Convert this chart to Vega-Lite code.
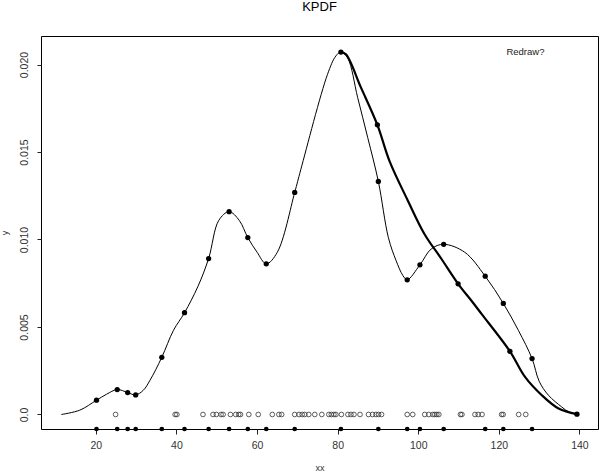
{
  "$schema": "https://vega.github.io/schema/vega-lite/v6.json",
  "autosize": {"type": "none"},
  "width": 557,
  "height": 393,
  "padding": {"left": 41, "top": 36, "right": 2, "bottom": 43},
  "background": "white",
  "config": {
    "view": {"stroke": "black", "strokeWidth": 1},
    "font": "Liberation Sans",
    "axis": {"domain": false, "grid": false, "tickColor": "#222", "labelColor": "#333", "titleColor": "#333", "titleFontWeight": "normal", "labelFont": "Liberation Sans", "titleFont": "Liberation Sans"}
  },
  "title": {"text": "KPDF", "fontSize": 13, "fontWeight": "normal", "color": "black", "offset": 22, "font": "Liberation Sans"},
  "datasets": {
    "curve": [
      {"s": "thin", "x": 11.45, "y": 0.0},
      {"s": "thin", "x": 16.01, "y": 0.000245},
      {"s": "thin", "x": 20.17, "y": 0.000815},
      {"s": "thin", "x": 22.67, "y": 0.001157},
      {"s": "thin", "x": 25.31, "y": 0.001425},
      {"s": "thin", "x": 27.9, "y": 0.001254},
      {"s": "thin", "x": 29.89, "y": 0.001117},
      {"s": "thin", "x": 31.79, "y": 0.001385},
      {"s": "thin", "x": 33.46, "y": 0.00196},
      {"s": "thin", "x": 36.37, "y": 0.003267},
      {"s": "thin", "x": 39.27, "y": 0.00481},
      {"s": "thin", "x": 42.01, "y": 0.005815},
      {"s": "thin", "x": 45.3, "y": 0.0073},
      {"s": "thin", "x": 47.99, "y": 0.008911},
      {"s": "thin", "x": 50.5, "y": 0.01109},
      {"s": "thin", "x": 53.07, "y": 0.011591},
      {"s": "thin", "x": 55.6, "y": 0.01109},
      {"s": "thin", "x": 57.71, "y": 0.010108},
      {"s": "thin", "x": 60.03, "y": 0.009269},
      {"s": "thin", "x": 62.29, "y": 0.008609},
      {"s": "thin", "x": 65.03, "y": 0.009269},
      {"s": "thin", "x": 69.35, "y": 0.012691},
      {"s": "thin", "x": 70.84, "y": 0.01398},
      {"s": "thin", "x": 77.49, "y": 0.01944},
      {"s": "thin", "x": 79.56, "y": 0.02049},
      {"s": "thin", "x": 80.81, "y": 0.020713},
      {"s": "thin", "x": 82.49, "y": 0.02037},
      {"s": "thin", "x": 84.97, "y": 0.01811},
      {"s": "thin", "x": 87.46, "y": 0.01583},
      {"s": "thin", "x": 90.1, "y": 0.013318},
      {"s": "thin", "x": 92.6, "y": 0.01010},
      {"s": "thin", "x": 94.5, "y": 0.008797},
      {"s": "thin", "x": 96.19, "y": 0.007942},
      {"s": "thin", "x": 97.26, "y": 0.007697},
      {"s": "thin", "x": 100.42, "y": 0.008552},
      {"s": "thin", "x": 103.24, "y": 0.009464},
      {"s": "thin", "x": 106.31, "y": 0.009726},
      {"s": "thin", "x": 111.54, "y": 0.00927},
      {"s": "thin", "x": 116.62, "y": 0.007902},
      {"s": "thin", "x": 121.11, "y": 0.006346},
      {"s": "thin", "x": 124.85, "y": 0.004806},
      {"s": "thin", "x": 128.24, "y": 0.003193},
      {"s": "thin", "x": 130.0, "y": 0.0019},
      {"s": "thin", "x": 132.3, "y": 0.0011},
      {"s": "thin", "x": 135.6, "y": 0.00043},
      {"s": "thin", "x": 137.3, "y": 0.00015},
      {"s": "thin", "x": 139.38, "y": 0.0000171},
      {"s": "thick", "x": 80.81, "y": 0.020713},
      {"s": "thick", "x": 82.06, "y": 0.020582},
      {"s": "thick", "x": 85.8, "y": 0.018677},
      {"s": "thick", "x": 89.86, "y": 0.016551},
      {"s": "thick", "x": 92.85, "y": 0.014498},
      {"s": "thick", "x": 97.43, "y": 0.012218},
      {"s": "thick", "x": 101.57, "y": 0.01030},
      {"s": "thick", "x": 105.73, "y": 0.008900},
      {"s": "thick", "x": 109.89, "y": 0.007469},
      {"s": "thick", "x": 113.21, "y": 0.00650},
      {"s": "thick", "x": 115.7, "y": 0.00575},
      {"s": "thick", "x": 122.75, "y": 0.003609},
      {"s": "thick", "x": 126.49, "y": 0.002144},
      {"s": "thick", "x": 130.65, "y": 0.0011},
      {"s": "thick", "x": 134.81, "y": 0.000342},
      {"s": "thick", "x": 139.38, "y": 0.0000171}
    ],
    "pts": [
      {"x": 20.17, "y": 0.000815}, {"x": 25.31, "y": 0.001425}, {"x": 27.9, "y": 0.001254},
      {"x": 29.89, "y": 0.001117}, {"x": 36.37, "y": 0.003267}, {"x": 42.01, "y": 0.005815},
      {"x": 47.99, "y": 0.008911}, {"x": 53.07, "y": 0.011591}, {"x": 57.71, "y": 0.010108},
      {"x": 62.29, "y": 0.008609}, {"x": 69.35, "y": 0.012691}, {"x": 80.81, "y": 0.020713},
      {"x": 90.1, "y": 0.013318}, {"x": 97.26, "y": 0.007697}, {"x": 100.42, "y": 0.008552},
      {"x": 106.31, "y": 0.009726}, {"x": 116.62, "y": 0.007902}, {"x": 121.11, "y": 0.006346},
      {"x": 128.24, "y": 0.003193}, {"x": 139.38, "y": 0.0000171},
      {"x": 89.86, "y": 0.016551}, {"x": 109.89, "y": 0.007469}, {"x": 122.75, "y": 0.003609}
    ],
    "rug": [
      {"x": 20.17, "y": -0.00083}, {"x": 25.31, "y": -0.00083}, {"x": 27.9, "y": -0.00083},
      {"x": 29.89, "y": -0.00083}, {"x": 36.37, "y": -0.00083}, {"x": 42.01, "y": -0.00083},
      {"x": 47.99, "y": -0.00083}, {"x": 53.07, "y": -0.00083}, {"x": 57.71, "y": -0.00083},
      {"x": 62.29, "y": -0.00083}, {"x": 69.35, "y": -0.00083}, {"x": 80.81, "y": -0.00083},
      {"x": 90.1, "y": -0.00083}, {"x": 97.26, "y": -0.00083}, {"x": 100.42, "y": -0.00083},
      {"x": 106.31, "y": -0.00083}, {"x": 116.62, "y": -0.00083}, {"x": 121.11, "y": -0.00083},
      {"x": 128.24, "y": -0.00083}
    ],
    "obs": [
      {"x": 24.91}, {"x": 39.69}, {"x": 40.11}, {"x": 46.59}, {"x": 49.08}, {"x": 49.91},
      {"x": 51.08}, {"x": 51.58}, {"x": 53.4}, {"x": 54.72}, {"x": 55.46}, {"x": 55.89},
      {"x": 57.96}, {"x": 60.3}, {"x": 63.79}, {"x": 65.43}, {"x": 66.11}, {"x": 69.35},
      {"x": 70.42}, {"x": 71.21}, {"x": 71.84}, {"x": 72.84}, {"x": 74.33}, {"x": 76.07},
      {"x": 77.82}, {"x": 78.44}, {"x": 79.07}, {"x": 79.56}, {"x": 80.93}, {"x": 82.55},
      {"x": 83.3}, {"x": 84.05}, {"x": 85.55}, {"x": 87.66}, {"x": 88.66}, {"x": 89.53},
      {"x": 90.16}, {"x": 90.9}, {"x": 97.26}, {"x": 98.63}, {"x": 101.62}, {"x": 102.62},
      {"x": 103.61}, {"x": 104.11}, {"x": 104.61}, {"x": 105.11}, {"x": 110.47}, {"x": 110.84},
      {"x": 114.08}, {"x": 114.88}, {"x": 115.83}, {"x": 120.69}, {"x": 121.06}, {"x": 124.92},
      {"x": 126.67}
    ],
    "note": [{"x": 126.6, "y": 0.0207, "label": "Redraw?"}]
  },
  "layer": [
    {
      "data": {"name": "curve"},
      "transform": [{"filter": "datum.s == 'thin'"}],
      "mark": {"type": "line", "interpolate": "catmull-rom", "color": "black", "strokeWidth": 1},
      "encoding": {
        "x": {"field": "x", "type": "quantitative", "scale": {"domain": [6.4, 144.6], "nice": false, "zero": false},
              "axis": {"values": [20, 40, 60, 80, 100, 120, 140], "tickSize": 5, "labelFontSize": 10.5, "labelPadding": 6, "title": "xx", "titleFontSize": 9, "titlePadding": 13}},
        "y": {"field": "y", "type": "quantitative", "scale": {"domain": [-0.00083, 0.02163], "nice": false, "zero": false},
              "axis": {"values": [0, 0.005, 0.01, 0.015, 0.02], "tickSize": 4, "labelAngle": 270, "labelAlign": "center", "labelBaseline": "bottom", "labelPadding": 8, "labelFontSize": 10.5,
                       "labelExpr": "datum.value == 0 ? '0.0' : format(datum.value, '.3f')", "title": "y", "titleFontSize": 9, "titlePadding": 10}}
      }
    },
    {
      "data": {"name": "curve"},
      "transform": [{"filter": "datum.s == 'thick'"}],
      "mark": {"type": "line", "interpolate": "catmull-rom", "color": "black", "strokeWidth": 2.2},
      "encoding": {
        "x": {"field": "x", "type": "quantitative"},
        "y": {"field": "y", "type": "quantitative"}
      }
    },
    {
      "data": {"name": "pts"},
      "mark": {"type": "point", "filled": true, "color": "black", "size": 28, "opacity": 1},
      "encoding": {
        "x": {"field": "x", "type": "quantitative"},
        "y": {"field": "y", "type": "quantitative"}
      }
    },
    {
      "data": {"name": "rug"},
      "mark": {"type": "point", "filled": true, "color": "black", "size": 22, "opacity": 1},
      "encoding": {
        "x": {"field": "x", "type": "quantitative"},
        "y": {"field": "y", "type": "quantitative"}
      }
    },
    {
      "data": {"name": "obs"},
      "mark": {"type": "point", "filled": false, "color": "#333", "size": 22, "strokeWidth": 0.8, "opacity": 1},
      "encoding": {
        "x": {"field": "x", "type": "quantitative"},
        "y": {"datum": 0, "type": "quantitative"}
      }
    },
    {
      "data": {"name": "note"},
      "mark": {"type": "text", "fontSize": 9.5, "color": "#222", "align": "center", "baseline": "middle"},
      "encoding": {
        "x": {"field": "x", "type": "quantitative"},
        "y": {"field": "y", "type": "quantitative"},
        "text": {"field": "label"}
      }
    }
  ]
}
